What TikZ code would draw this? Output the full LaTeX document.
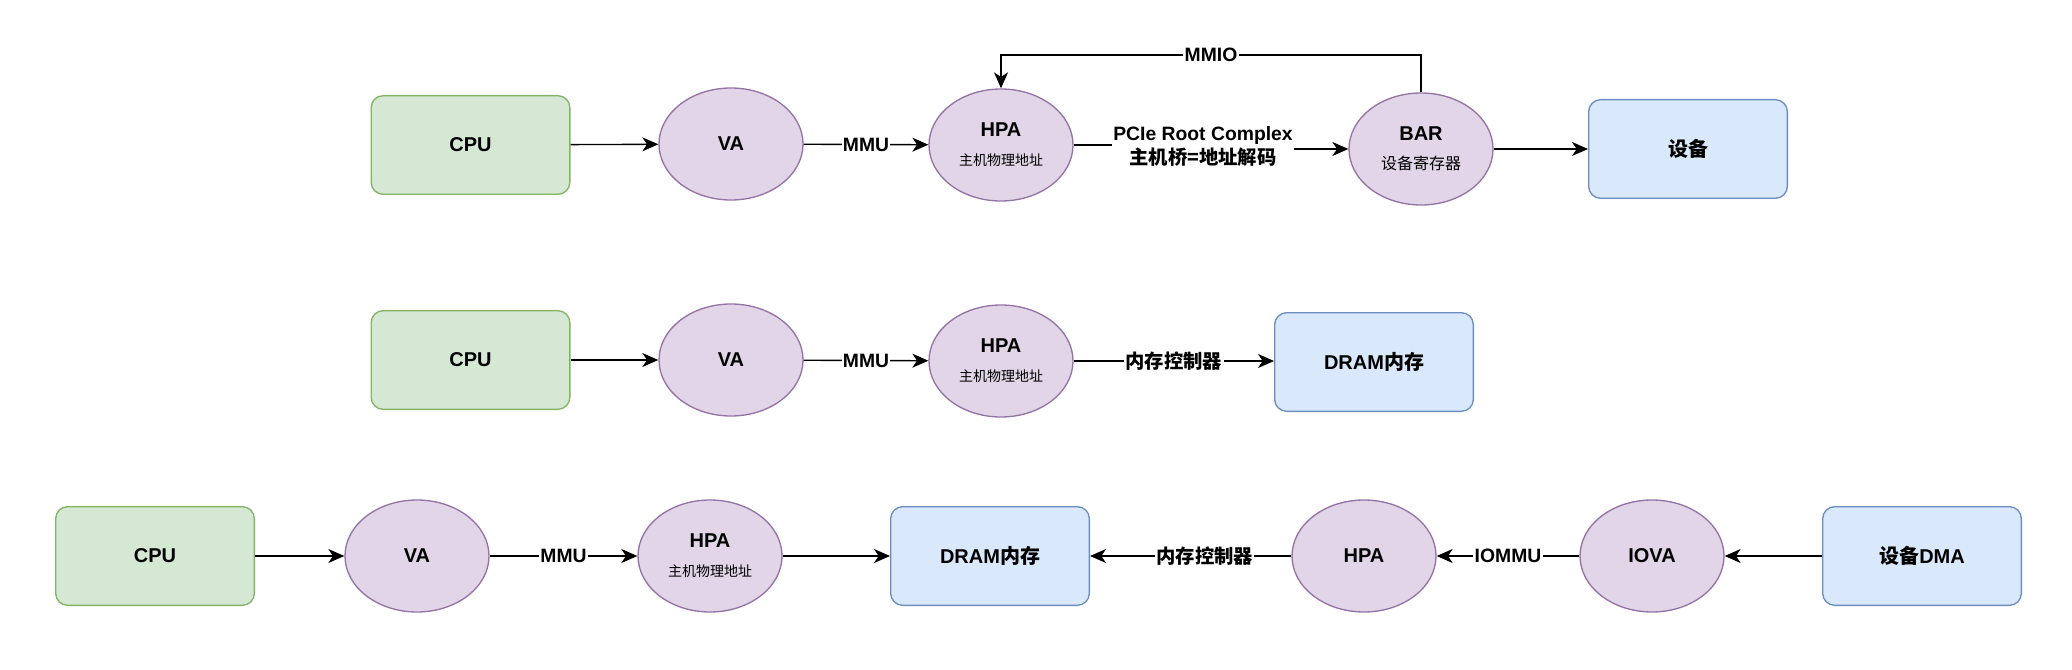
\documentclass[tikz,border=0pt]{standalone}
\usepackage{fontspec}
\setmainfont{Liberation Sans}
\newfontfamily\cjk{Noto Sans CJK SC}
\usetikzlibrary{arrows.meta,shapes.geometric}

\definecolor{greenfill}{HTML}{D5E8D4}
\definecolor{greenline}{HTML}{82B366}
\definecolor{bluefill}{HTML}{DAE8FC}
\definecolor{blueline}{HTML}{6C8EBF}
\definecolor{purplefill}{HTML}{E1D5E7}
\definecolor{purpleline}{HTML}{9673A6}

\newcommand{\zh}[1]{{\cjk #1}}
\newcommand{\subtext}[2]{{\fontsize{#1}{12}\selectfont\mdseries\zh{#2}}}

\begin{document}
\begin{tikzpicture}[x=0.75pt, y=-0.75pt,
    every node/.style={font=\fontsize{15}{22}\selectfont\bfseries},
    cpubox/.style={draw=greenline, fill=greenfill, line width=1pt, rounded corners=9pt,
        minimum width=149pt, minimum height=74pt, inner sep=0pt},
    devbox/.style={draw=blueline, fill=bluefill, line width=1pt, rounded corners=9pt,
        minimum width=149pt, minimum height=74pt, inner sep=0pt},
    addr/.style={ellipse, draw=purpleline, fill=purplefill, line width=1pt,
        minimum width=108pt, minimum height=84pt, inner sep=0pt, align=center},
    flow/.style={-{Stealth[length=12pt, width=10.5pt, inset=3.5pt]}, line width=1pt},
    edgetext/.style={fill=white, inner sep=1pt, align=center,
        font=\fontsize{14.5}{18}\selectfont\bfseries}
]

    % Canvas
    \fill[white] (0,0) rectangle (2072,670);

    % Row 1: CPU accesses a device register through MMIO
    \node[cpubox] (cpu1) at (470.5,145) {CPU};
    \node[addr] (va1) at (731,144) {VA};
    \node[addr] (hpa1) at (1001,145) {HPA\\\subtext{10.5}{主机物理地址}};
    \node[addr] (bar1) at (1421,149) {BAR\\\subtext{12}{设备寄存器}};
    \node[devbox] (dev1) at (1688,149) {\zh{设备}};
    \node[edgetext, fill=none] (pcie) at (1203,146) {PCIe Root Complex\\\zh{主机桥=地址解码}};
    \coordinate (mmio) at (1211,55);

    \draw[flow] (cpu1) -- (va1);
    \draw[flow] (va1) -- node[edgetext] {MMU} (hpa1);
    \draw[line width=1pt] (hpa1.east) -- (pcie.west |- hpa1.east);
    \draw[flow] (pcie.east |- bar1.west) -- (bar1.west);
    \draw[flow] (bar1) -- (dev1);
    \draw[flow] (bar1.north) -- (bar1.north |- mmio) -- node[edgetext] {MMIO} (hpa1.north |- mmio) -- (hpa1.north);

    % Row 2: CPU accesses memory
    \node[cpubox] (cpu2) at (470.5,360) {CPU};
    \node[addr] (va2) at (731,360) {VA};
    \node[addr] (hpa2) at (1001,361) {HPA\\\subtext{10.5}{主机物理地址}};
    \node[devbox] (dram2) at (1374,362) {DRAM\zh{内存}};

    \draw[flow] (cpu2) -- (va2);
    \draw[flow] (va2) -- node[edgetext] {MMU} (hpa2);
    \draw[flow] (hpa2.east) -- node[edgetext] {\zh{内存控制器}} (hpa2.east -| dram2.west);

    % Row 3: CPU and device DMA meet in memory
    \node[cpubox] (cpu3) at (155,556) {CPU};
    \node[addr] (va3) at (417,556) {VA};
    \node[addr] (hpa3) at (710,556) {HPA\\\subtext{10.5}{主机物理地址}};
    \node[devbox] (dram3) at (990,556) {DRAM\zh{内存}};
    \node[addr] (iohpa3) at (1364,556) {HPA};
    \node[addr] (iova3) at (1652,556) {IOVA};
    \node[devbox] (dma3) at (1922,556) {\zh{设备}DMA};

    \draw[flow] (cpu3) -- (va3);
    \draw[flow] (va3) -- node[edgetext] {MMU} (hpa3);
    \draw[flow] (hpa3) -- (dram3);
    \draw[flow] (iohpa3) -- node[edgetext, pos=0.43] {\zh{内存控制器}} (dram3);
    \draw[flow] (iova3) -- node[edgetext] {IOMMU} (iohpa3);
    \draw[flow] (dma3) -- (iova3);

\end{tikzpicture}
\end{document}
